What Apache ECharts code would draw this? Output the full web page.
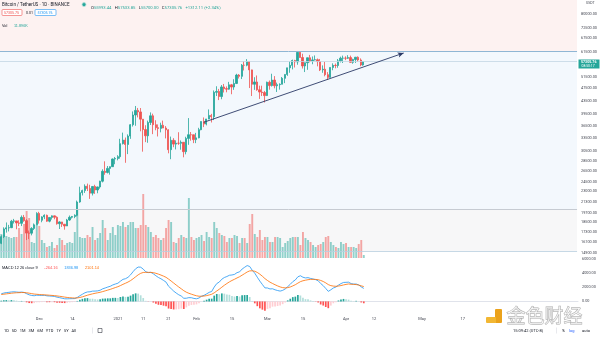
<!DOCTYPE html>
<html><head><meta charset="utf-8">
<script src="https://cdn.jsdelivr.net/npm/echarts@6/dist/echarts.min.js"></script>
<style>html,body{margin:0;padding:0;background:#fff}#c{width:600px;height:337px}</style>
</head><body><div id="c"></div>
<script>
// ---------- data ----------
const firstDay = [2020, 10, 16]; // 2020-11-16
const dayCount = 228;            // visible category span incl. empty future days

const opens = [
15960,16720,17660,17800,17820,18650,18690,18420,18370,19160,
18720,17150,17140,17720,18180,19700,18770,19220,19440,18650,
19150,19360,19170,18320,18550,18250,18030,18800,19170,19270,
19440,21350,22800,23130,23860,23480,22720,23810,23230,23730,
24710,26490,26280,27040,27370,28890,28980,29370,32190,33000,
31990,33950,36770,39370,40670,40240,38240,35540,34010,37370,
39150,36770,36010,35830,36630,35920,35470,30850,32950,32080,
32280,32270,32500,30420,33400,34270,34260,33110,33520,35510,
37620,36940,38290,39260,38900,46200,46480,44840,47970,47400,
47230,48690,47940,49160,52150,51680,55900,55890,57410,54090,
48890,49680,47020,46280,46100,45140,49590,48440,50350,48370,
48750,48880,50970,52380,54880,55850,57770,57220,61190,59000,
55610,56880,58910,57650,58030,58100,57350,54080,54340,52300,
51300,55030,55840,55780,57630,58730,58740,58720,58970,57060,
58200,59130,57990,55993.44];
const highs = [
16880,17860,18480,18170,18820,18950,18700,18770,19420,19490,
18920,17460,17880,18350,19860,19920,19310,19570,19530,19180,
19420,19390,19300,18640,18560,18290,18950,19410,19350,19570,
21560,23770,23280,24170,24300,24100,23840,24100,23780,24790,
26870,28420,27500,27410,28990,29300,29680,33300,34780,33600,
34360,36940,40370,41950,41380,41350,38260,36630,37850,40100,
39750,37950,36850,37300,37850,36420,35600,33830,33460,32940,
34880,32920,32560,33780,38530,34930,34290,34720,35980,37660,
38700,38310,40950,39700,46800,48200,47310,48630,48990,48150,
49710,49000,50650,52620,52530,56370,57500,58350,57530,54180,
51370,52000,48400,48400,46640,49790,50200,52640,51770,49450,
49200,51450,52400,54900,57390,58150,58060,61780,61600,60600,
56940,58980,60100,59450,59880,58600,58420,55830,57200,53240,
55070,56640,56560,58400,59370,59800,59490,60000,59800,58500,
59250,59480,58650,57533.85];
const lows = [
15870,16560,17210,17350,17760,18350,17620,18010,18020,18570,
16330,16440,16880,17520,18180,18330,18510,18920,18570,18500,
18860,18900,18200,17650,17910,17570,18020,18700,19000,19050,
19290,21230,22350,22750,23060,21820,22350,22600,22700,23440,
24500,25860,26100,25880,27320,27850,28620,28950,32000,28130,
29900,33290,36300,36500,38720,35110,30420,32530,32380,36700,
34410,35360,33850,34850,35900,33400,30070,28850,31390,30900,
31910,30840,29240,29850,31920,32860,32300,32300,33420,35360,
36160,36600,38220,37350,37990,45000,43730,43990,46130,46200,
47050,45570,47000,48950,50900,50710,53860,55480,47600,45000,
47000,46700,44100,45000,43000,45000,47050,48100,47500,46300,
47070,48880,49270,51850,53000,54270,55000,56080,58900,54600,
53270,54120,57030,56270,57820,55450,53650,53000,51700,50430,
51300,53950,54700,54900,57000,56770,57940,58430,56900,56480,
56800,57300,55500,55700];
const closes = [
16720,17660,17800,17820,18650,18690,18420,18370,19160,18720,
17150,17140,17720,18180,19700,18770,19220,19440,18650,19150,
19360,19170,18320,18550,18250,18030,18800,19170,19270,19440,
21350,22800,23130,23860,23480,22720,23810,23230,23730,24710,
26490,26280,27040,27370,28890,28980,29370,32190,33000,31990,
33950,36770,39370,40670,40240,38240,35540,34010,37370,39150,
36770,36010,35830,36630,35920,35470,30850,32950,32080,32280,
32270,32500,30420,33400,34270,34260,33110,33520,35510,37620,
36940,38290,39260,38900,46200,46480,44840,47970,47400,47230,
48690,47940,49160,52150,51680,55900,55890,57410,54090,48890,
49680,47020,46280,46100,45140,49590,48440,50350,48370,48750,
48880,50970,52380,54880,55850,57770,57220,61190,59000,55610,
56880,58910,57650,58030,58100,57350,54080,54340,52300,51300,
55030,55840,55780,57630,58730,58740,58720,58970,57060,58200,
59130,57990,55993.65,57305.76];
// volume, thousand BTC
const volumes = [
96,92,88,84,80,84,84,120,96,136,
188,160,64,60,132,128,72,60,44,48,
64,40,52,80,72,52,60,64,60,104,
192,84,80,80,92,84,124,72,80,100,
152,120,72,100,124,92,132,128,144,124,
132,144,144,120,120,132,256,132,124,104,
84,92,80,72,80,120,152,144,64,60,
80,92,84,80,240,84,72,80,84,92,
68,104,84,80,144,120,100,92,88,64,
80,80,92,88,60,80,80,60,136,176,
96,84,112,72,84,84,64,64,84,84,
80,44,60,68,80,84,84,84,52,104,
80,72,64,52,44,52,56,64,84,88,
64,52,44,40,64,56,60,44,44,44,
40,56,72,11.896];
const macdLine = [
1080,1180,1250,1280,1340,1360,1330,1290,1320,1270,
1090,930,840,800,880,850,850,860,790,760,
740,700,600,530,450,370,360,380,390,400,
560,800,1010,1220,1340,1360,1450,1460,1490,1580,
1780,1900,2030,2140,2330,2460,2570,2860,3120,3210,
3410,3760,4210,4620,4860,4840,4570,4190,4080,4110,
3900,3630,3380,3200,2970,2730,2140,1810,1460,1180,
940,760,440,450,530,520,420,370,480,730,
860,1060,1280,1400,2030,2520,2740,3140,3380,3520,
3700,3740,3820,4070,4180,4580,4830,5070,4940,4400,
3990,3420,2870,2390,1910,1900,1760,1790,1640,1540,
1460,1560,1760,2090,2420,2800,3040,3480,3630,3420,
3320,3360,3250,3170,3080,2920,2530,2230,1830,1420,
1640,1900,2030,2300,2520,2680,2700,2720,2520,2450,
2460,2330,2050,1836.98];
const signalLine = [
976,1017,1064,1107,1154,1195,1222,1236,1253,1256,
1223,1164,1099,1039,1007,976,951,933,904,875,
848,818,774,725,670,610,560,524,497,478,
494,555,646,761,877,974,1069,1147,1216,1289,
1387,1490,1598,1706,1831,1957,2080,2236,2413,2572,
2740,2944,3197,3482,3758,3974,4093,4112,4106,4107,
4066,3979,3859,3727,3576,3407,3154,2885,2600,2316,
2041,1785,1516,1303,1148,1022,902,796,733,732,
758,818,910,1008,1212,1474,1727,2010,2284,2531,
2765,2960,3132,3320,3492,3710,3934,4161,4317,4334,
4265,4096,3851,3559,3229,2963,2722,2536,2357,2194,
2047,1950,1912,1948,2042,2194,2363,2586,2795,2920,
3000,3072,3108,3120,3112,3074,2965,2818,2620,2380,
2232,2166,2139,2171,2241,2329,2403,2466,2420,2410,
2380,2310,2200,2101.14];
const histogram = [
104,163,186,173,186,165,108,54,67,14,
-133,-234,-259,-239,-127,-126,-101,-73,-114,-115,
-108,-118,-174,-195,-220,-240,-200,-144,-107,-78,
66,245,364,459,463,386,381,313,274,291,
393,410,432,434,499,503,490,624,707,638,
670,816,1013,1138,1102,866,477,78,-26,3,
-166,-349,-479,-527,-606,-677,-1014,-1075,-1140,-1136,
-1101,-1025,-1076,-853,-618,-502,-482,-426,-253,-2,
102,242,370,392,818,1046,1013,1130,1096,989,
935,780,688,750,688,870,896,909,623,66,
-275,-676,-981,-1169,-1319,-1063,-962,-746,-717,-654,
-587,-390,-152,142,378,606,677,894,835,500,
320,288,142,50,-32,-154,-435,-588,-790,-960,
-592,-266,-109,129,279,351,297,254,100,40,
80,20,-150,-264.16];

const priceTicks = [80000,72500,67500,61500,56500,51500,47500,43500,39500,36500,33500,30500,28500,26500,24500,23000,21300,19700,18500,17300,16100,14900];
const macdTicks = [0,2000,4000,6000];
const timeTickDates = ['2020-12-01','2020-12-14','2021-01-01','2021-01-11','2021-01-21','2021-02-01','2021-02-15','2021-03-01','2021-03-15','2021-04-01','2021-04-12','2021-05-01','2021-05-17'];
const timeTickLabels = ['Dec','14','2021','11','21','Feb','15','Mar','15','Apr','12','May','17'];

// drawings (price levels)
const resistance = 61660, zoneLow = 20270, zoneBottom = 15070, lastPrice = 57305.76;
const trendStart = ['2021-02-04', 37400], trendEnd = ['2021-04-24', 60900];

// ---------- build ----------
const dates = [];
for (let i = 0; i < dayCount; i++) {
  const d = new Date(Date.UTC(firstDay[0], firstDay[1], firstDay[2] + i));
  dates.push(d.toISOString().slice(0, 10));
}
const UP = '#26a69a', DOWN = '#ef5350';
const candleData = closes.map((c, i) => [opens[i], c, lows[i], highs[i]]);
const volData = volumes.map((v, i) => ({value: v, itemStyle: {color: closes[i] >= opens[i] ? 'rgba(38,166,154,0.5)' : 'rgba(239,83,80,0.5)'}}));
const histData = histogram.map((v, i) => {
  const p = i > 0 ? histogram[i - 1] : v;
  let col;
  if (v >= 0) col = v >= p ? '#26a69a' : '#b2dfdb';
  else col = v < p ? '#ff5252' : '#ffcdd2';
  return {value: v, itemStyle: {color: col}};
});

const FONT = 'Roboto, "Noto Sans", sans-serif';
const gridL = 0, gridR = 22;
const xBase = (gi, extra) => Object.assign({
  type: 'category', gridIndex: gi, data: dates, boundaryGap: true,
  axisLine: {show: false}, axisTick: {show: false}, axisLabel: {show: false}, splitLine: {show: false}
}, extra || {});

const graphics = [
  {type: 'text', left: 2, top: 2, style: {text: 'Bitcoin / TetherUS · 1D · BINANCE', fontSize: 4.5, fill: '#131722', fontFamily: 'Roboto'}},
  {type: 'circle', shape: {cx: 84, cy: 4.6, r: 2}, style: {fill: '#26a69a', stroke: '#b2dfdb', lineWidth: 0.8}},
  {type: 'text', left: 91, top: 2.3, style: {
    text: '{k|O}{v|55993.44} {k|H}{v|57533.85} {k|L}{v|55700.00} {k|C}{v|57305.76} {v|+1312.11 (+2.34%)}',
    rich: {k: {fontSize: 4.2, fill: '#131722', fontFamily: 'Roboto'}, v: {fontSize: 4.2, fill: '#26a69a', fontFamily: 'Roboto'}}}},
  {type: 'rect', shape: {x: 2, y: 9.5, width: 20, height: 6, r: 1}, style: {fill: '#ffffff', stroke: '#ef5350', lineWidth: 0.6}},
  {type: 'text', left: 4, top: 10.6, style: {text: '57305.75', fontSize: 3.6, fill: '#ef5350', fontFamily: 'Roboto'}},
  {type: 'text', left: 26, top: 10.6, style: {text: '0.01', fontSize: 3.6, fill: '#131722', fontFamily: 'Roboto'}},
  {type: 'rect', shape: {x: 35, y: 9.5, width: 21, height: 6, r: 1}, style: {fill: '#ffffff', stroke: '#2196f3', lineWidth: 0.6}},
  {type: 'text', left: 37.5, top: 10.6, style: {text: '57305.76', fontSize: 3.6, fill: '#2196f3', fontFamily: 'Roboto'}},
  {type: 'text', left: 2, top: 19.5, style: {text: '{k|Vol}  {v|11.896K}', rich: {k: {fontSize: 3.8, fill: '#131722'}, v: {fontSize: 3.8, fill: '#26a69a'}}}},
  {type: 'text', left: 586, top: 1, style: {text: 'USDT', fontSize: 3.5, fill: '#434651', fontFamily: 'Roboto'}},
  {type: 'rect', shape: {x: 578.5, y: 59.5, width: 21, height: 9}, style: {fill: '#26a69a'}},
  {type: 'text', left: 581, top: 60.2, style: {text: '57305.76', fontSize: 3.6, fill: '#ffffff', fontFamily: 'Roboto', fontWeight: 'bold'}},
  {type: 'text', left: 581.5, top: 64.4, style: {text: '08:50:17', fontSize: 3.4, fill: '#ffffff', fontFamily: 'Roboto'}},
  {type: 'text', left: 2, top: 262, style: {
    text: '{k|MACD 12 26 close 9}  {r|-264.16}  {b|1836.98}  {o|2101.14}',
    rich: {k: {fontSize: 3.9, fill: '#131722'}, r: {fontSize: 3.9, fill: '#ff5252'}, b: {fontSize: 3.9, fill: '#2196f3'}, o: {fontSize: 3.9, fill: '#ff6d00'}}}},
  {type: 'text', left: 4, top: 328.5, style: {text: '1D   5D   1M   3M   6M   YTD   1Y   5Y   All', fontSize: 4, fill: '#131722', fontFamily: 'Roboto'}},
  {type: 'rect', shape: {x: 92, y: 327.5, width: 0.5, height: 6}, style: {fill: '#d1d4dc'}},
  {type: 'rect', shape: {x: 98, y: 328.5, width: 4, height: 4}, style: {fill: 'none', stroke: '#131722', lineWidth: 0.5}},
  {type: 'text', left: 513, top: 328.5, style: {text: '15:09:42 (UTC-8)', fontSize: 4, fill: '#131722', fontFamily: 'Roboto'}},
  {type: 'rect', shape: {x: 556, y: 327.5, width: 0.5, height: 6}, style: {fill: '#d1d4dc'}},
  {type: 'text', left: 562, top: 328.5, style: {text: '%', fontSize: 4, fill: '#131722', fontFamily: 'Roboto'}},
  {type: 'text', left: 569, top: 328.5, style: {text: 'log', fontSize: 4, fill: '#2962ff', fontFamily: 'Roboto'}},
  {type: 'text', left: 582, top: 328.5, style: {text: 'auto', fontSize: 4, fill: '#131722', fontFamily: 'Roboto'}},
  // watermark logo
  {type: 'rect', shape: {x: 495, y: 309, width: 7, height: 14, r: 1}, style: {fill: '#eba21b'}},
  {type: 'rect', shape: {x: 486, y: 317, width: 10, height: 6, r: 1}, style: {fill: '#f2b733'}},
  {type: 'text', left: 506, top: 306, style: {text: '金色财经', fontSize: 19, fontFamily: '"Noto Sans CJK SC"', fill: 'rgba(255,255,255,0.55)', stroke: 'rgba(140,140,140,0.75)', lineWidth: 0.8}}
].map(g => Object.assign({z: 100}, g));

const option = {
  animation: false,
  backgroundColor: '#ffffff',
  grid: [
    {left: gridL, right: gridR, top: 0, bottom: 82},
    {left: gridL, right: gridR, top: 158, bottom: 79},
    {left: gridL, right: gridR, top: 259, bottom: 25}
  ],
  xAxis: [
    xBase(0), xBase(1),
    xBase(2, {
      axisLine: {show: true, lineStyle: {color: '#e0e3eb', width: 1}},
      axisLabel: {
        show: true, fontSize: 4, color: '#434651', margin: 5, fontFamily: FONT,
        interval: (idx, val) => timeTickDates.indexOf(val) >= 0,
        formatter: (val) => { const k = timeTickDates.indexOf(val); return k >= 0 ? timeTickLabels[k] : ''; }
      }
    })
  ],
  yAxis: [
    {type: 'log', logBase: 10, gridIndex: 0, position: 'right', min: 14700, max: 88450,
     axisLine: {show: false}, axisTick: {show: false}, splitLine: {show: false},
     axisLabel: {customValues: priceTicks, formatter: (v) => Number(v).toFixed(2), fontSize: 3.8, color: '#434651', margin: 4, fontFamily: FONT}},
    {type: 'value', gridIndex: 1, min: 0, max: 400, show: false},
    {type: 'value', gridIndex: 2, position: 'right', min: -1500, max: 6000,
     axisLine: {show: false}, axisTick: {show: false}, splitLine: {show: false},
     axisLabel: {customValues: macdTicks, formatter: (v) => Number(v).toFixed(2), fontSize: 3.8, color: '#434651', margin: 4, fontFamily: FONT}}
  ],
  series: [
    {
      type: 'candlestick', xAxisIndex: 0, yAxisIndex: 0, data: candleData, barWidth: 1.8,
      itemStyle: {color: UP, color0: DOWN, borderColor: UP, borderColor0: DOWN, borderWidth: 0.8},
      markArea: {silent: true, z: 0, data: [
        [{yAxis: resistance, itemStyle: {color: '#fdf2f1'}}, {yAxis: 88450}],
        [{yAxis: zoneLow, itemStyle: {color: '#f3f8fd'}}, {yAxis: resistance}],
        [{yAxis: zoneBottom, itemStyle: {color: '#f7f7f8'}}, {yAxis: zoneLow}]
      ]},
      markLine: {silent: true, symbol: ['none', 'none'], label: {show: false}, animation: false,
        data: [
          {yAxis: resistance, lineStyle: {color: '#8fb6d4', width: 1, type: 'solid'}},
          {yAxis: lastPrice, lineStyle: {color: '#c3d6e3', width: 0.8, type: 'solid'}},
          {yAxis: zoneLow, lineStyle: {color: '#c6cbd2', width: 1, type: 'solid'}},
          {yAxis: zoneBottom, lineStyle: {color: '#b9cfdf', width: 0.8, type: 'solid'}},
          [{coord: trendStart, symbol: 'none'}, {coord: trendEnd, symbol: 'arrow', symbolSize: [4, 6], lineStyle: {color: '#2b3a67', width: 0.9, type: 'solid'}}]
        ]}
    },
    {type: 'bar', xAxisIndex: 1, yAxisIndex: 1, data: volData, barWidth: 1.9},
    {type: 'bar', xAxisIndex: 2, yAxisIndex: 2, data: histData, barWidth: 1.7},
    {type: 'line', xAxisIndex: 2, yAxisIndex: 2, data: macdLine, symbol: 'none', lineStyle: {color: '#2196f3', width: 0.8}},
    {type: 'line', xAxisIndex: 2, yAxisIndex: 2, data: signalLine, symbol: 'none', lineStyle: {color: '#ff6d00', width: 0.8}}
  ],
  graphic: graphics
};
const chart = echarts.init(document.getElementById('c'));
chart.setOption(option);
</script>
</body></html>
